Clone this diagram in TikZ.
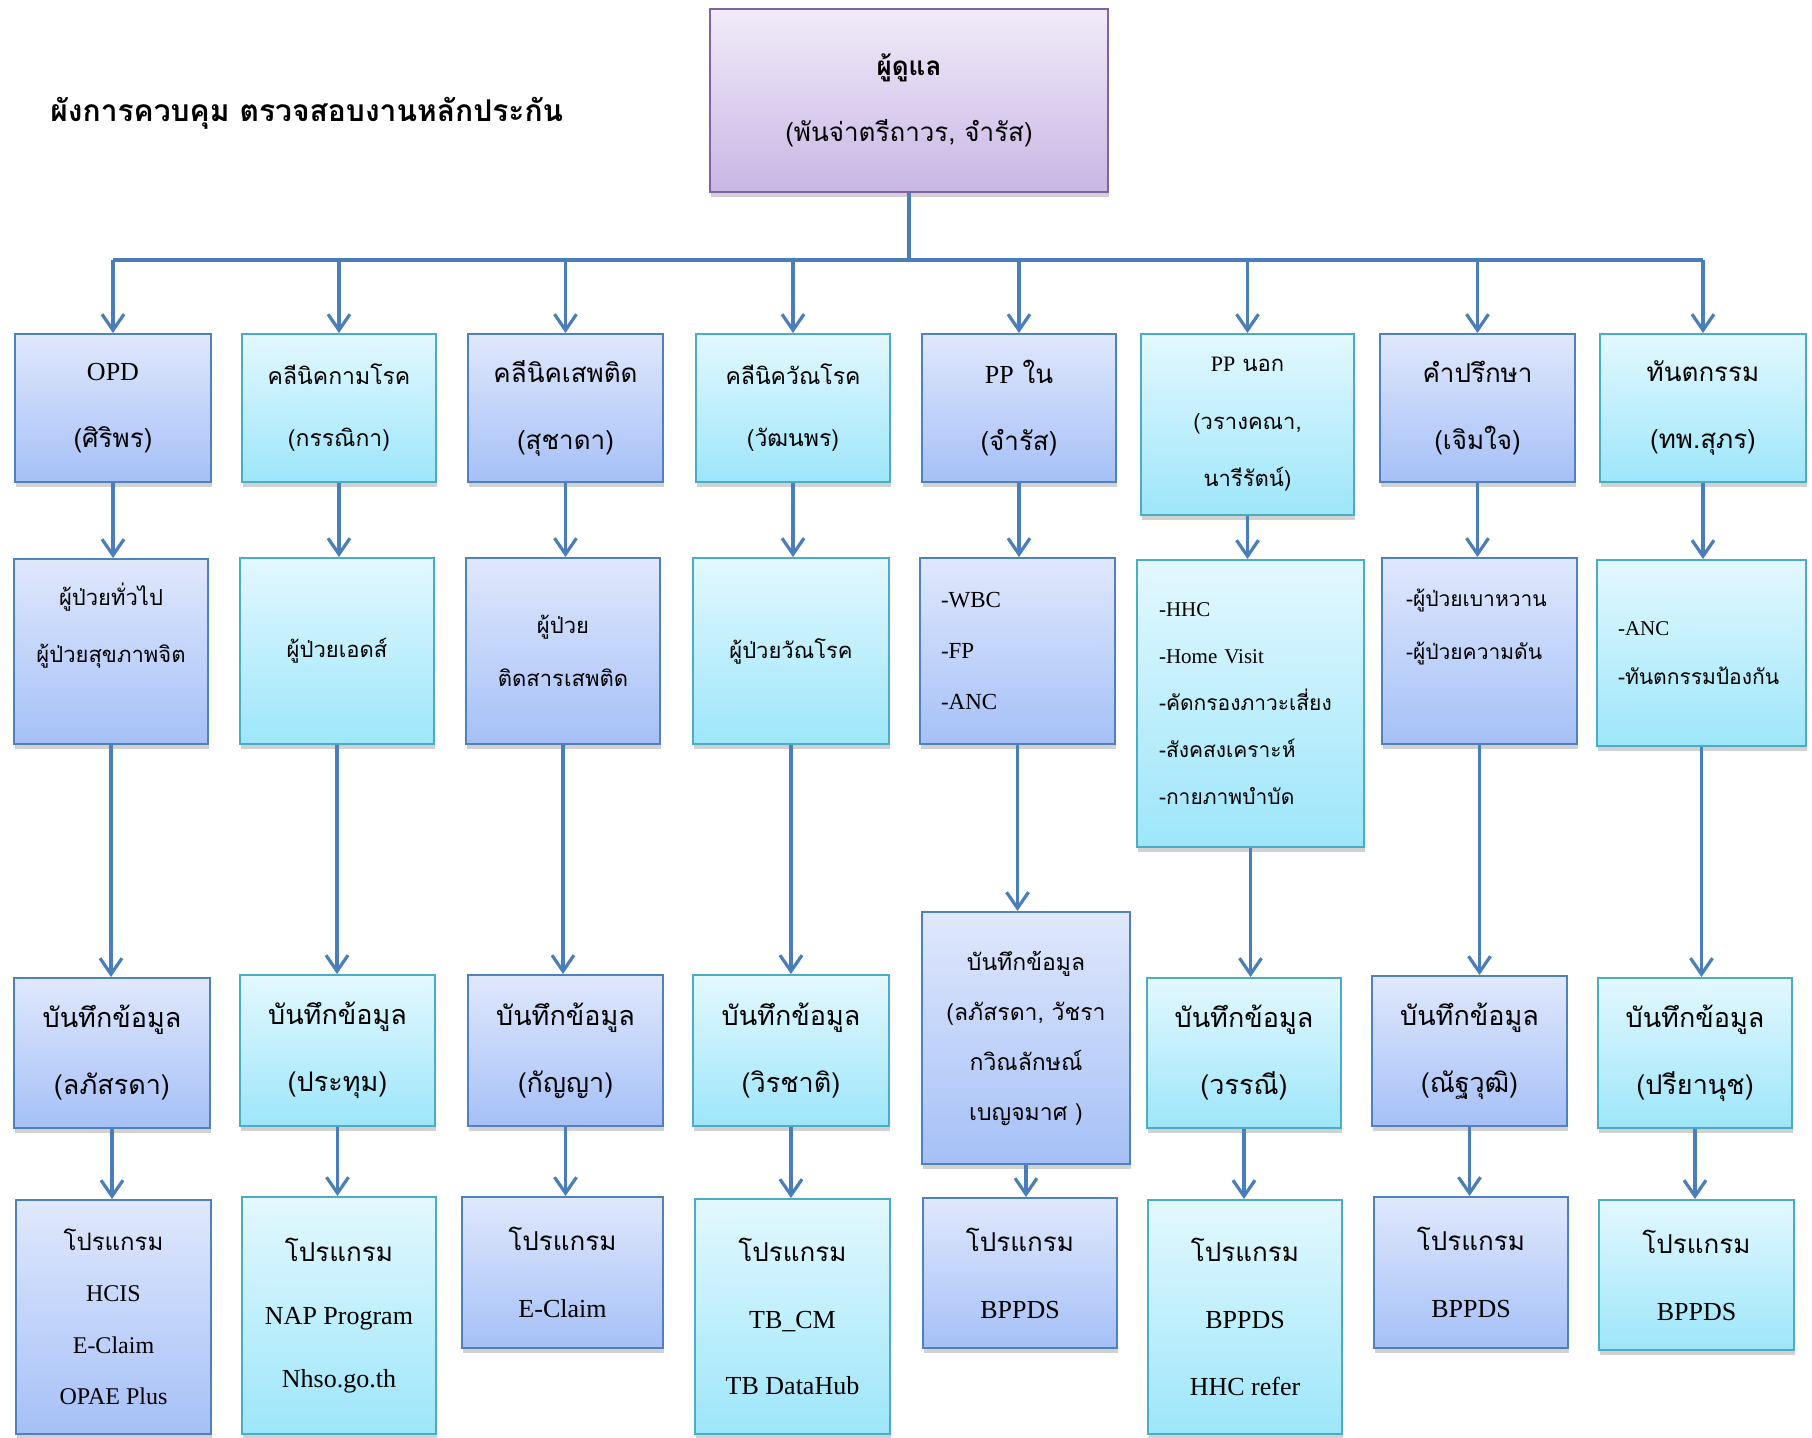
\documentclass[tikz,border=0pt]{standalone}
\usepackage{fontspec}
\setmainfont{Liberation Serif}
\newfontfamily\thai[Script=Thai]{Loma}
\usetikzlibrary{arrows.meta,shadows}
\definecolor{lnblue}{RGB}{74,126,187}
\definecolor{bbtop}{RGB}{224,232,252}
\definecolor{bbbot}{RGB}{165,192,247}
\definecolor{bbline}{RGB}{79,129,189}
\definecolor{cbtop}{RGB}{227,248,254}
\definecolor{cbbot}{RGB}{157,230,250}
\definecolor{cbline}{RGB}{75,172,198}
\definecolor{pbtop}{RGB}{241,235,249}
\definecolor{pbbot}{RGB}{200,182,228}
\definecolor{pbline}{RGB}{128,100,162}

\begin{document}
\begin{tikzpicture}[x=0.5pt,y=-0.5pt,
  ln/.style={line width=1.6pt,draw=lnblue},
  arr/.style={ln,-{Straight Barb[length=8pt,width=11pt]}},
  cell/.style args={#1,#2,#3,#4}{at={({(#1+#3)/2},{(#2+#4)/2})},
    minimum width={(#3-#1)*0.5pt},minimum height={(#4-#2)*0.5pt}},
  box/.style={line width=1pt,inner sep=0pt,align=center,
    drop shadow={shadow xshift=0.4pt,shadow yshift=-2.5pt,opacity=0.3,fill=black!60}},
  bb/.style={box,draw=bbline,top color=bbtop,bottom color=bbbot},
  cb/.style={box,draw=cbline,top color=cbtop,bottom color=cbbot},
  pb/.style={box,draw=pbline,top color=pbtop,bottom color=pbbot},
  th/.style 2 args={font=\thai\fontsize{#1}{#2}\selectfont},
  lst/.style 2 args={align=left,inner xsep=#1*0.5pt,text width=#2*0.5pt}]
\useasboundingbox (0,0) rectangle (1812,1437);

\node[anchor=west,inner sep=0pt,font=\thai\bfseries\fontsize{15}{18}\selectfont] (title) at (50,113) {ผังการควบคุม ตรวจสอบงานหลักประกัน};
\node[pb,th={13}{33},cell={710,9,1108,192}] (top) {{\bfseries ผู้ดูแล}\\(พันจ่าตรีถาวร, จำรัส)};

% units
\node[bb,th={13}{33.5},cell={15,334,211,482}] (hd1) {{\rmfamily OPD}\\(ศิริพร)};
\node[cb,th={11.5}{31},cell={242,334,436,482}] (hd2) {คลีนิคกามโรค\\(กรรณิกา)};
\node[bb,th={13}{33.5},cell={468,334,663,482}] (hd3) {คลีนิคเสพติด\\(สุชาดา)};
\node[cb,th={11.5}{31},cell={696,334,890,482}] (hd4) {คลีนิควัณโรค\\(วัฒนพร)};
\node[bb,th={13}{33.5},cell={922,334,1116,482}] (hd5) {{\rmfamily PP} ใน\\(จำรัส)};
\node[cb,th={11}{28.75},cell={1141,334,1354,515}] (hd6) {{\rmfamily PP} นอก\\(วรางคณา,\\นารีรัตน์)};
\node[bb,th={13}{33.5},cell={1380,334,1575,482}] (hd7) {คำปรึกษา\\(เจิมใจ)};
\node[cb,th={13}{33.5},cell={1600,334,1806,482}] (hd8) {ทันตกรรม\\(ทพ.สุภร)};

% patients
\node[bb,th={11}{28.5},cell={14,559,208,744}] (pt1) {ผู้ป่วยทั่วไป\\ผู้ป่วยสุขภาพจิต\\\mbox{}};
\node[cb,th={11}{28.5},cell={240,558,434,744}] (pt2) {ผู้ป่วยเอดส์};
\node[bb,th={11}{26.5},cell={466,558,660,744}] (pt3) {ผู้ป่วย\\ติดสารเสพติด};
\node[cb,th={11}{28.5},cell={693,558,889,744}] (pt4) {ผู้ป่วยวัณโรค};
\node[bb,font=\fontsize{11.5}{25.5}\selectfont,lst={21}{153},cell={920,558,1115,744}] (pt5) {-WBC\\-FP\\-ANC};
\node[cb,th={10.5}{23.5},lst={22}{183},cell={1137,560,1364,847}] (pt6) {{\rmfamily -HHC}\\{\rmfamily -Home Visit}\\-คัดกรองภาวะเสี่ยง\\-สังคสงเคราะห์\\-กายภาพบำบัด};
\node[bb,th={10.5}{26.75},lst={24}{147},cell={1382,558,1577,744}] (pt7) {-ผู้ป่วยเบาหวาน\\-ผู้ป่วยความดัน\\\mbox{}};
\node[cb,th={10.5}{24.5},lst={21}{167},cell={1597,560,1806,746}] (pt8) {{\rmfamily -ANC}\\-ทันตกรรมป้องกัน};

% records
\node[bb,th={13.5}{33.5},cell={14,978,210,1128}] (rec1) {บันทึกข้อมูล\\(ลภัสรดา)};
\node[cb,th={13.5}{33.5},cell={240,975,435,1126}] (rec2) {บันทึกข้อมูล\\(ประทุม)};
\node[bb,th={13.5}{33.5},cell={468,975,663,1126}] (rec3) {บันทึกข้อมูล\\(กัญญา)};
\node[cb,th={13.5}{33.5},cell={693,975,889,1126}] (rec4) {บันทึกข้อมูล\\(วิรชาติ)};
\node[bb,th={11.5}{25},cell={922,912,1130,1164}] (rec5) {บันทึกข้อมูล\\(ลภัสรดา, วัชรา\\กวิณลักษณ์\\เบญจมาศ )};
\node[cb,th={13.5}{33.5},cell={1147,978,1341,1128}] (rec6) {บันทึกข้อมูล\\(วรรณี)};
\node[bb,th={13.5}{33.5},cell={1372,976,1567,1126}] (rec7) {บันทึกข้อมูล\\(ณัฐวุฒิ)};
\node[cb,th={13.5}{33.5},cell={1598,978,1792,1128}] (rec8) {บันทึกข้อมูล\\(ปรียานุช)};

% programs
\node[bb,th={12}{25.75},cell={16,1200,211,1434}] (prg1) {โปรแกรม\\{\rmfamily HCIS}\\{\rmfamily E-Claim}\\{\rmfamily OPAE Plus}};
\node[cb,th={13}{31.5},cell={242,1197,436,1434}] (prg2) {โปรแกรม\\{\rmfamily NAP Program}\\{\rmfamily Nhso.go.th}};
\node[bb,th={13}{33.5},cell={462,1197,663,1348}] (prg3) {โปรแกรม\\{\rmfamily E-Claim}};
\node[cb,th={13}{33.25},cell={695,1199,890,1434}] (prg4) {โปรแกรม\\{\rmfamily TB\_CM}\\{\rmfamily TB DataHub}};
\node[bb,th={13}{33.5},cell={923,1198,1117,1348}] (prg5) {โปรแกรม\\{\rmfamily BPPDS}};
\node[cb,th={13}{33.5},cell={1148,1200,1342,1434}] (prg6) {โปรแกรม\\{\rmfamily BPPDS}\\{\rmfamily HHC refer}};
\node[bb,th={13}{33.5},cell={1374,1197,1568,1348}] (prg7) {โปรแกรม\\{\rmfamily BPPDS}};
\node[cb,th={13}{33.5},cell={1599,1200,1794,1350}] (prg8) {โปรแกรม\\{\rmfamily BPPDS}};

\coordinate (bus) at (0,260);
\draw[ln] (top) -- (top |- bus);
\draw[ln] (hd1 |- bus) -- (hd8 |- bus);
\foreach \c in {1,...,8}{
  \draw[arr] (hd\c |- bus) -- (hd\c);
  \draw[arr] (hd\c) -- (hd\c |- pt\c.north);
  \draw[arr] (pt\c) -- (pt\c |- rec\c.north);
  \draw[arr] (rec\c) -- (rec\c |- prg\c.north);
}
\end{tikzpicture}
\end{document}
